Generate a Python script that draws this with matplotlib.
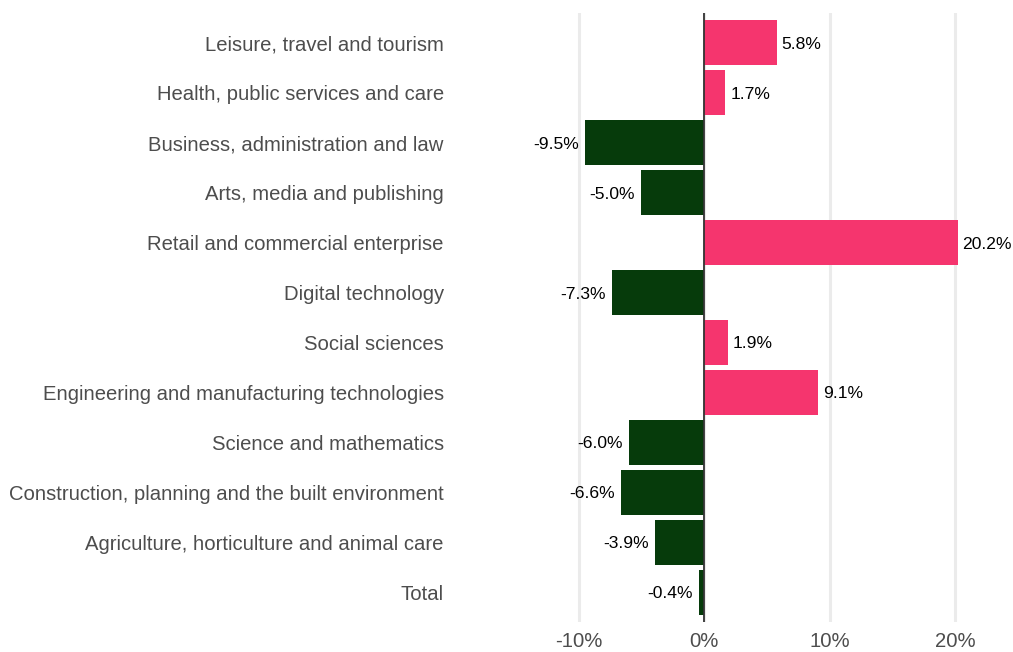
import matplotlib
matplotlib.use("Agg")
import matplotlib.pyplot as plt

categories = [
    "Leisure, travel and tourism",
    "Health, public services and care",
    "Business, administration and law",
    "Arts, media and publishing",
    "Retail and commercial enterprise",
    "Digital technology",
    "Social sciences",
    "Engineering and manufacturing technologies",
    "Science and mathematics",
    "Construction, planning and the built environment",
    "Agriculture, horticulture and animal care",
    "Total",
]
values = [5.8, 1.7, -9.5, -5.0, 20.2, -7.3, 1.9, 9.1, -6.0, -6.6, -3.9, -0.4]
xticks = [-10, 0, 10, 20]
xticklabels = ["-10%", "0%", "10%", "20%"]

POS = "#F5356E"
NEG = "#063B0B"

plt.rcParams['font.family'] = ['Liberation Sans', 'DejaVu Sans']

W, H = 1013, 652
fig = plt.figure(figsize=(W / 100, H / 100), dpi=100)
x0, x1 = 450, 1010
y0, y1 = 13, 622
ax = fig.add_axes([x0 / W, 1 - y1 / H, (x1 - x0) / W, (y1 - y0) / H])

n = len(categories)
ypos = list(range(n))
colors = [POS if v > 0 else NEG for v in values]
ax.barh(ypos, values, height=0.9, color=colors, zorder=2)

for y, v in zip(ypos, values):
    if v >= 0:
        ax.annotate(f"{v:.1f}%", (v, y), xytext=(3.5, 0), textcoords="offset points",
                    ha="left", va="center_baseline", fontsize=12.6, color="black")
    else:
        ax.annotate(f"{v:.1f}%", (v, y), xytext=(-4.5, 0), textcoords="offset points",
                    ha="right", va="center_baseline", fontsize=12.6, color="black")

scale = (955 - 704) / 20.0
ax.set_xlim((x0 - 704) / scale, (x1 - 704) / scale)
ax.set_ylim(n - 1 + 0.6, -0.6)

ax.set_xticks(xticks)
ax.set_xticklabels(xticklabels)
ax.set_yticks(ypos)
ax.set_yticklabels(categories)

for xv in xticks:
    ax.axvline(xv, color="#EBEBEB", lw=2.2, zorder=0)
ax.axvline(0, color="#333333", lw=1.3, zorder=3)

for s in ax.spines.values():
    s.set_visible(False)
ax.tick_params(axis="both", length=0, labelsize=14.6, colors="#4D4D4D")
ax.tick_params(axis="y", pad=4.5)
ax.tick_params(axis="x", pad=7)

fig.savefig("out.png", dpi=100)
